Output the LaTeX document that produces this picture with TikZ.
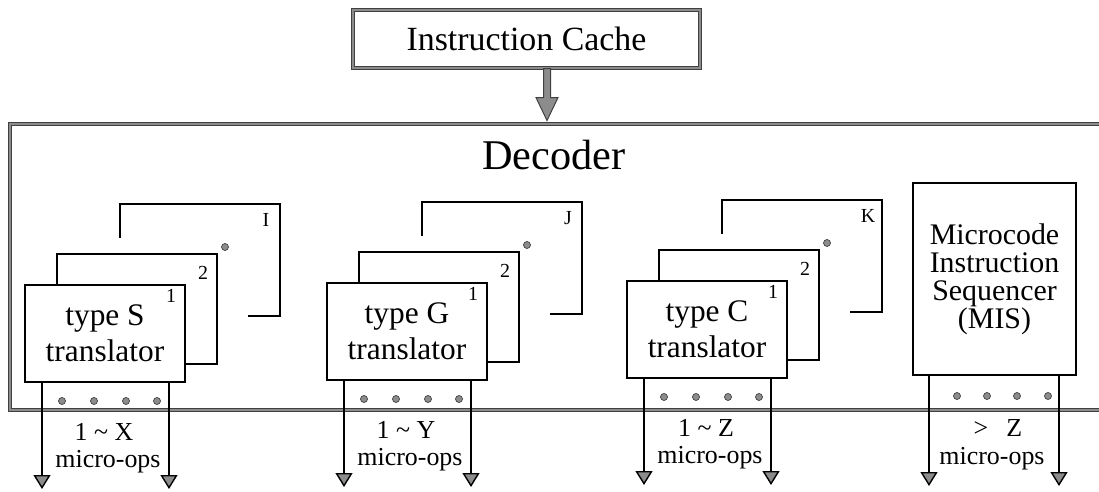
\documentclass[tikz,border=0pt]{standalone}
\usepackage{fontspec}
\setmainfont{Liberation Serif}
\usetikzlibrary{arrows.meta,calc}
\definecolor{bargray}{gray}{0.55}
\definecolor{edgegray}{gray}{0.25}
\begin{document}
\begin{tikzpicture}[x=1bp,y=-1bp,
  tbox/.style={draw=black, line width=1.8bp, fill=white, minimum width=160bp, minimum height=97bp, inner sep=0pt, align=center, font=\fontsize{31.5}{36}\selectfont},
  misbox/.style={draw=black, line width=1.8bp, fill=white, minimum width=163bp, minimum height=192bp, inner sep=0pt, align=center, font=\fontsize{30}{28}\selectfont},
  partial/.style={draw=black, line width=1.8bp},
  uop/.style={draw=black, line width=1.4bp, -{Triangle[width=17bp,length=14bp,fill=bargray]}},
  gdot/.style={circle, fill=bargray, draw=edgegray, line width=0.7bp, minimum size=7bp, inner sep=0pt},
  num/.style={font=\fontsize{20}{20}\selectfont, inner sep=0pt},
  lab/.style={font=\fontsize{26}{26}\selectfont, inner sep=0pt},
  grayframe/.style={draw=edgegray, double=bargray, double distance=2.6bp, line width=1.1bp},
  blockarrow/.style={fill=bargray, draw=edgegray, line width=1bp, line join=miter}
]
\useasboundingbox (0,0) rectangle (1099,492);

% Instruction cache
\node[grayframe, minimum width=347bp, minimum height=58bp, inner sep=0pt, font=\fontsize{34}{34}\selectfont] (cache) at (526.5,39) {Instruction Cache};

% Decoder frame (open on the right)
\draw[grayframe] (1110,124) -- (10,124) -- (10,410) -- (1110,410);
\node[font=\fontsize{42.5}{42.5}\selectfont, inner sep=0pt] (dec) at (554,155) {Decoder};

% arrow from cache into decoder
\coordinate (ain) at ($(cache.south)+(20.5,0)$);
\draw[blockarrow] (ain) ++(-3.5,0) -- ++(7,0) -- ++(0,29) -- ++(7.5,0) -- ++(-11,23) -- ++(-11,-23) -- ++(7.5,0) -- cycle;

% translator groups
\foreach \dx/\dy/\T/\K/\R/\n in {0/0/S/I/X/s, 302/-2/G/J/Y/g, 602/-4/C/K/Z/c}{
  \begin{scope}[shift={(\dx,\dy)}]
    \draw[partial] (120,238) -- (120,204) -- (280,204) -- (280,316) -- (248,316);
    \draw[partial] (57,286) -- (57,254) -- (217,254) -- (217,364) -- (185,364);
    \node[tbox] (t\n) at (105,333.5) {type \T\\translator};
    \node[num] (one\n) at (171,296) {1};
    \node[num] (two\n) at (203,273) {2};
    \node[num] (k\n) at (266,220) {\K};
    \node[gdot] (cd\n) at (225,247) {};
    \foreach \x in {62,94,126,157}{\node[gdot] (d\n\x) at (\x,401) {};}
    \node[lab] (r\n) at (104,432) {1 \textasciitilde{} \R};
    \node[lab] (m\n) at (108,462) {micro-ops};
    \coordinate (al\n) at (42,489);
    \coordinate (ar\n) at (169,489);
    \draw[uop] (t\n.south -| al\n) -- (al\n);
    \draw[uop] (t\n.south -| ar\n) -- (ar\n);
  \end{scope}
}

% MIS
\node[misbox] (mis) at (994.5,279) {Microcode\\Instruction\\Sequencer\\(MIS)};
\foreach \x in {957,987,1017,1048}{\node[gdot] (dm\x) at (\x,396) {};}
\node[lab] (rm) at (998,428) {>\hspace{0.7em}Z};
\node[lab] (mm) at (992,459) {micro-ops};
\coordinate (alm) at (929,486);
\coordinate (arm) at (1059,486);
\draw[uop] (mis.south -| alm) -- (alm);
\draw[uop] (mis.south -| arm) -- (arm);
\end{tikzpicture}
\end{document}
